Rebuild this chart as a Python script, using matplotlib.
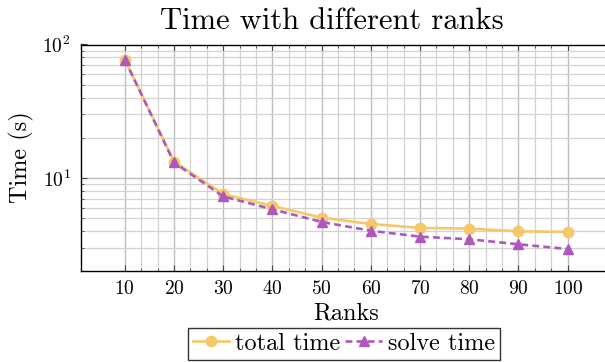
import matplotlib
matplotlib.use("Agg")
import matplotlib.pyplot as plt
from matplotlib.ticker import FixedLocator, LogLocator, NullFormatter
import numpy as np

ranks = [10, 20, 30, 40, 50, 60, 70, 80, 90, 100]
total_time = [77.0, 13.3, 7.6, 6.2, 5.06, 4.54, 4.24, 4.19, 4.0, 3.96]
solve_time = [77.0, 13.1, 7.3, 5.85, 4.7, 4.04, 3.65, 3.49, 3.2, 2.95]
x_ticks = [10, 20, 30, 40, 50, 60, 70, 80, 90, 100]
title = "Time with different ranks"

plt.rcParams['font.family'] = ['cmr10', 'DejaVu Serif']
plt.rcParams['mathtext.fontset'] = 'cm'
plt.rcParams['axes.formatter.use_mathtext'] = True
plt.rcParams['axes.unicode_minus'] = False

W, H = 605, 362
fig = plt.figure(figsize=(W / 100, H / 100), dpi=100)
left, right, top, bottom = 80.5, 612, 44.5, 270.7
ax = fig.add_axes([left / W, 1 - bottom / H, (right - left) / W, (bottom - top) / H])

c_total = '#F5C86A'
c_solve = '#AE58BE'

ax.plot(ranks, total_time, color=c_total, lw=1.9, marker='o', ms=7.5,
        label='total time', zorder=3)
ax.plot(ranks, solve_time, color=c_solve, lw=1.9, ls=(0, (2.6, 1.6)), marker='^',
        ms=7.8, label='solve time', zorder=4)

ax.set_yscale('log')
ax.set_xlim(1, 109)
ax.set_ylim(2.03, 100)

ax.xaxis.set_major_locator(FixedLocator(x_ticks))
minors = []
for a in x_ticks[:-1]:
    minors += [a + 10 / 3, a + 20 / 3]
ax.xaxis.set_minor_locator(FixedLocator(minors))
ax.yaxis.set_major_locator(LogLocator(base=10, numticks=10))
ax.yaxis.set_minor_locator(LogLocator(base=10, subs=np.arange(2, 10), numticks=20))
ax.yaxis.set_minor_formatter(NullFormatter())

ax.grid(True, which='major', color='#BDBDBD', lw=1.0, zorder=0)
ax.grid(True, which='minor', color='#D3D3D3', lw=0.9, zorder=0)
ax.set_axisbelow(True)

ax.tick_params(which='both', direction='in', top=True, right=True, color='#444444')
ax.tick_params(which='major', length=4, width=0.8, labelsize=14, pad=7)
ax.tick_params(which='minor', length=2.5, width=0.6)
for s in ax.spines.values():
    s.set_linewidth(1.0)
    s.set_color('black')

ax.set_xlabel('Ranks', fontsize=17.5, labelpad=3)
ax.set_ylabel('Time (s)', fontsize=17.5, labelpad=6)

fig.text(332 / W, 1 - 21 / H, title, fontsize=22, ha='center', va='center')

leg = ax.legend(loc='upper center', bbox_to_anchor=((344 - left) / (right - left), -0.253),
                ncol=2, frameon=True, fancybox=False, edgecolor='black', fontsize=17.5,
                handlelength=1.5, handletextpad=0.25, columnspacing=0.2,
                borderpad=0.2, borderaxespad=0)
leg.get_frame().set_linewidth(1.0)

fig.savefig('out.png', dpi=100)
